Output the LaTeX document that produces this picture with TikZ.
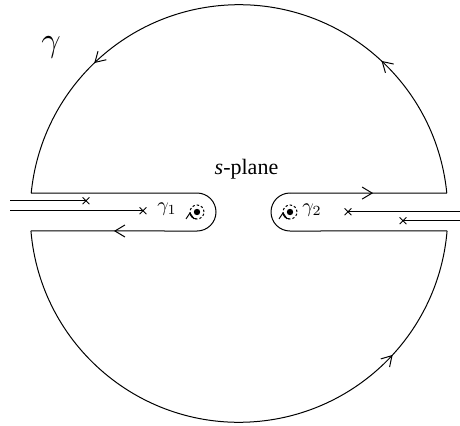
\documentclass[tikz,border=0pt]{standalone}
\usepackage{fontspec}
\setmainfont{Liberation Serif}
\usetikzlibrary{arrows.meta, decorations.markings, shapes.misc}

\begin{document}
\begin{tikzpicture}[x=0.5pt, y=0.5pt, line width=0.5pt,
  >={Straight Barb[length=5pt, width=6pt]},
  mid arrow/.style={postaction={decorate, decoration={markings,
      mark=at position #1 with {\arrow{>}}}}},
  loop/.style={dash pattern=on 1.2pt off 1pt},
  loop tip/.style={-{Straight Barb[length=3pt, width=4pt]}},
  zero/.style={cross out, draw, minimum size=3pt, inner sep=0pt, line width=0.4pt},
  pole/.style={circle, fill, minimum size=3.2pt, inner sep=0pt}]
  \useasboundingbox (0,0) rectangle (460,425);
  % centre and poles
  \coordinate (o) at (239,211.5);
  \node[pole] (p1) at (197,213) {};
  \node[pole] (p2) at (290,213) {};
  % big arcs
  \draw[mid arrow=0.245, mid arrow=0.76] (o) ++(5.6:208.8) coordinate (ur)
    arc[start angle=5.6, end angle=174.4, radius=208.8] coordinate (ul);
  \draw[mid arrow=0.778] (o) ++(184.8:208.8) coordinate (ll)
    arc[start angle=184.8, end angle=355.2, radius=208.8] coordinate (lr);
  % keyholes
  \draw (ul) -- (197,232) arc[start angle=90, end angle=-90, radius=19] coordinate (k1);
  \draw[mid arrow=0.5] (k1) -- (ll);
  \draw (lr) -- (290,194) arc[start angle=270, end angle=90, radius=19] coordinate (k2);
  \draw[mid arrow=0.53] (k2) -- (ur);
  % small loops
  \draw[loop] (p1) circle[radius=7];
  \draw[loop tip] (p1) ++(265:7) arc[start angle=265, end angle=180, radius=7];
  \draw[loop] (p2) circle[radius=7];
  \draw[loop tip] (p2) ++(265:7) arc[start angle=265, end angle=180, radius=7];
  % branch cuts
  \coordinate (c1) at (10,224.3);
  \coordinate (c2) at (10,214.3);
  \coordinate (c3) at (460,213.3);
  \coordinate (c4) at (460,204.3);
  \node[zero] (z1) at (86,224.3) {};
  \node[zero] (z2) at (143,214.3) {};
  \node[zero] (z3) at (348,213.3) {};
  \node[zero] (z4) at (403,204.3) {};
  \draw (c1) -- (z1.center);
  \draw (c2) -- (z2.center);
  \draw (c3) -- (z3.center);
  \draw (c4) -- (z4.center);
  % labels
  \node (g) at (51,377.5) {\LARGE$\gamma$};
  \node (plane) at (246.5,256) {\fontsize{11}{13}\selectfont\textit{s}-plane};
  \node (g1) at (167,216) {$\gamma_1$};
  \node (g2) at (312,215) {$\gamma_2$};
\end{tikzpicture}
\end{document}
